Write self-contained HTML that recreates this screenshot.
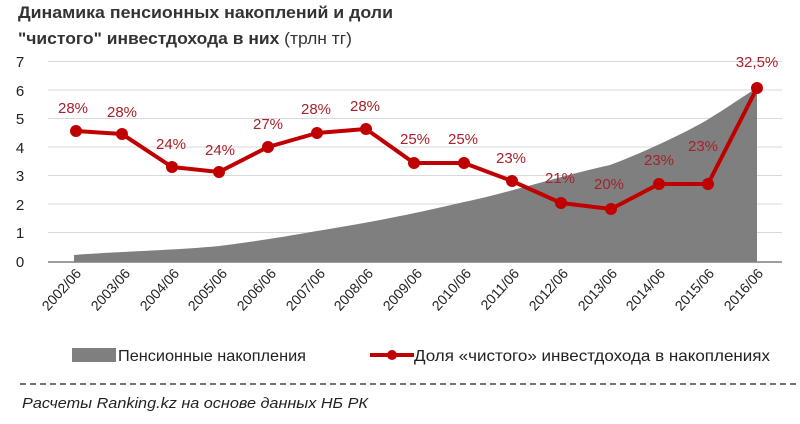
<!DOCTYPE html>
<html><head><meta charset="utf-8"><style>
body{margin:0;background:#fff;width:800px;height:419px;overflow:hidden;font-family:"Liberation Sans","DejaVu Sans",sans-serif}
</style></head><body>
<svg width="800" height="419" xmlns="http://www.w3.org/2000/svg" font-family="Liberation Sans, DejaVu Sans, sans-serif">
<text x="18" y="18" font-size="17" font-weight="bold" fill="#333" textLength="375" lengthAdjust="spacingAndGlyphs">Динамика  пенсионных  накоплений  и  доли</text>
<text x="18" y="44" font-size="17" fill="#333" textLength="334" lengthAdjust="spacingAndGlyphs"><tspan font-weight="bold">"чистого"  инвестдохода  в  них</tspan> (трлн тг)</text>
<g stroke="#d9d9d9" stroke-width="1">
<line x1="48" x2="782" y1="61.5" y2="61.5"/><line x1="48" x2="782" y1="90" y2="90"/><line x1="48" x2="782" y1="118.5" y2="118.5"/><line x1="48" x2="782" y1="147" y2="147"/><line x1="48" x2="782" y1="175.5" y2="175.5"/><line x1="48" x2="782" y1="204" y2="204"/><line x1="48" x2="782" y1="232.5" y2="232.5"/>
</g>
<g font-size="15" fill="#222" text-anchor="middle">
<text x="20" y="67">7</text><text x="20" y="96">6</text><text x="20" y="124">5</text><text x="20" y="153">4</text><text x="20" y="181">3</text><text x="20" y="210">2</text><text x="20" y="238">1</text><text x="20" y="267">0</text>
</g>
<path d="M74,262 L74,255 C110,252 180,250 219,246 C260,241 300,234 317,231 C360,224 400,217 464,202 C500,195 560,176 610,165 C650,150 690,130 707,120 C730,106 745,95 757,88 L757,262 Z" fill="#7f7f7f"/>
<line x1="48" x2="782" y1="262" y2="262" stroke="#7f7f7f" stroke-width="1.5"/>
<polyline fill="none" stroke="#c00000" stroke-width="4" stroke-linejoin="round" points="76,131 122,134 172,167 219,172 268,147 317,133 366,129 414,163 464,163 512,181 561,203 611,209 659,184 708,184 757,88"/>
<g fill="#c00000">
<circle cx="76" cy="131" r="6"/><circle cx="122" cy="134" r="6"/><circle cx="172" cy="167" r="6"/><circle cx="219" cy="172" r="6"/><circle cx="268" cy="147" r="6"/><circle cx="317" cy="133" r="6"/><circle cx="366" cy="129" r="6"/><circle cx="414" cy="163" r="6"/><circle cx="464" cy="163" r="6"/><circle cx="512" cy="181" r="6"/><circle cx="561" cy="203" r="6"/><circle cx="611" cy="209" r="6"/><circle cx="659" cy="184" r="6"/><circle cx="708" cy="184" r="6"/><circle cx="757" cy="88" r="6"/>
</g>
<g font-size="15" fill="#a8202a" text-anchor="middle">
<text x="73" y="113">28%</text><text x="122" y="117">28%</text><text x="171" y="149">24%</text><text x="220" y="155">24%</text><text x="268" y="129">27%</text><text x="316" y="114">28%</text><text x="365" y="111">28%</text><text x="415" y="144">25%</text><text x="463" y="144">25%</text><text x="511" y="163">23%</text><text x="560" y="183">21%</text><text x="609" y="189">20%</text><text x="659" y="165">23%</text><text x="703" y="151">23%</text><text x="757" y="67">32,5%</text>
</g>
<g font-size="14" fill="#222" text-anchor="end">
<text transform="translate(82,274) rotate(-48)">2002/06</text><text transform="translate(131,274) rotate(-48)">2003/06</text><text transform="translate(180,274) rotate(-48)">2004/06</text><text transform="translate(228,274) rotate(-48)">2005/06</text><text transform="translate(277,274) rotate(-48)">2006/06</text><text transform="translate(326,274) rotate(-48)">2007/06</text><text transform="translate(374,274) rotate(-48)">2008/06</text><text transform="translate(423,274) rotate(-48)">2009/06</text><text transform="translate(472,274) rotate(-48)">2010/06</text><text transform="translate(520,274) rotate(-48)">2011/06</text><text transform="translate(569,274) rotate(-48)">2012/06</text><text transform="translate(618,274) rotate(-48)">2013/06</text><text transform="translate(666,274) rotate(-48)">2014/06</text><text transform="translate(715,274) rotate(-48)">2015/06</text><text transform="translate(764,274) rotate(-48)">2016/06</text>
</g>
<rect x="72" y="348" width="44" height="14" fill="#7f7f7f"/>
<text x="118" y="361" font-size="16" fill="#222" textLength="188" lengthAdjust="spacingAndGlyphs">Пенсионные накопления</text>
<line x1="370" x2="414" y1="355" y2="355" stroke="#c00000" stroke-width="4"/>
<circle cx="392" cy="355" r="5" fill="#c00000"/>
<text x="414" y="361" font-size="16" fill="#222" textLength="356" lengthAdjust="spacingAndGlyphs">Доля «чистого» инвестдохода в накоплениях</text>
<line x1="20" x2="800" y1="384" y2="384" stroke="#222" stroke-width="1.2" stroke-dasharray="6,4"/>
<text x="22" y="408" font-size="15" font-style="italic" fill="#222" textLength="346" lengthAdjust="spacingAndGlyphs">Расчеты Ranking.kz на основе данных  НБ РК</text>
</svg>
</body></html>
